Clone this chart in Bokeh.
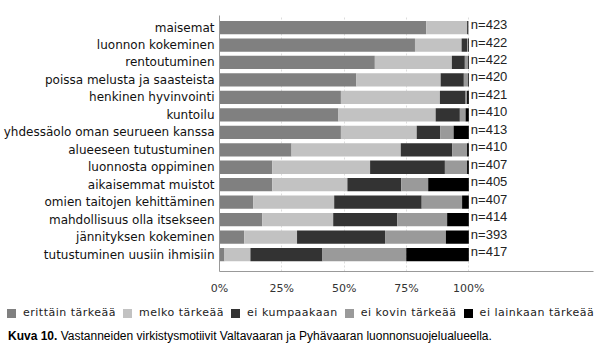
from bokeh.plotting import figure
from bokeh.models import FixedTicker, ColumnDataSource, Div
from bokeh.layouts import column
from bokeh.core.properties import value
from bokeh.embed import file_html
from bokeh.resources import INLINE

categories = ["maisemat", "luonnon kokeminen", "rentoutuminen", "poissa melusta ja saasteista",
              "henkinen hyvinvointi", "kuntoilu", "yhdessäolo oman seurueen kanssa",
              "alueeseen tutustuminen", "luonnosta oppiminen", "aikaisemmat muistot",
              "omien taitojen kehittäminen", "mahdollisuus olla itsekseen",
              "jännityksen kokeminen", "tutustuminen uusiin ihmisiin"]
erittain = [82.9, 78.4, 62.3, 54.9, 48.7, 47.7, 48.7, 28.9, 21.2, 21.2, 13.5, 17.1, 9.9, 2.0]
melko = [16.4, 18.7, 30.9, 33.8, 39.7, 39.0, 30.4, 43.8, 39.2, 30.1, 32.5, 28.5, 21.2, 10.4]
kumpaakaan = [0.4, 2.2, 5.2, 9.3, 10.3, 9.7, 9.4, 20.6, 30.0, 21.6, 35.1, 25.7, 35.3, 28.9]
kovin = [0.3, 0.4, 1.3, 1.7, 0.6, 2.3, 5.4, 6.0, 8.9, 10.8, 16.2, 20.0, 24.4, 33.6]
lainkaan = [0.0, 0.3, 0.3, 0.3, 0.7, 1.3, 6.1, 0.7, 0.7, 16.3, 2.7, 8.7, 9.2, 25.1]
n_values = [423, 422, 422, 420, 421, 410, 413, 410, 407, 405, 407, 414, 393, 417]
series_names = ["erittäin tärkeää", "melko tärkeää", "ei kumpaakaan", "ei kovin tärkeää", "ei lainkaan tärkeää"]
x_ticks = [0, 25, 50, 75, 100]
x_tick_labels = ["0%", "25%", "50%", "75%", "100%"]
caption_bold = "Kuva 10."
caption_text = "Vastanneiden virkistysmotiivit Valtavaaran ja Pyhävaaran luonnonsuojelualueella."

colors = ["#808080", "#c2c2c2", "#333333", "#9a9a9a", "#000000"]
keys = ["s0", "s1", "s2", "s3", "s4"]
ncat = len(categories)
ypos = [ncat - 1 - i for i in range(ncat)]

data = dict(y=ypos, s0=erittain, s1=melko, s2=kumpaakaan, s3=kovin, s4=lainkaan,
            n=["n=%d" % v for v in n_values], xend=[100] * ncat)
src = ColumnDataSource(data)

p = figure(width=601, height=296, output_backend="svg", toolbar_location=None,
           x_range=(0, 150), y_range=(-0.97, 13.69),
           frame_width=374, frame_height=256,
           min_border_left=218, min_border_right=9, min_border_top=15, min_border_bottom=25)
p.outline_line_color = None
p.background_fill_color = "white"

p.hbar_stack(keys, y="y", height=0.76, color=colors, source=src, line_color=None)

p.text(x="xend", y="y", text="n", source=src, x_offset=2, y_offset=-3,
       text_font=value("Liberation Sans"), text_font_size="13px", text_color="#222222",
       text_baseline="middle", text_align="left")

p.xaxis.ticker = FixedTicker(ticks=x_ticks)
p.xaxis.major_label_overrides = {t: l for t, l in zip(x_ticks, x_tick_labels)}
p.xaxis.major_tick_line_color = None
p.xaxis.major_tick_out = 0
p.xaxis.major_tick_in = 0
p.xaxis.minor_tick_line_color = None
p.xaxis.axis_line_color = "#999999"
p.xaxis.major_label_text_font = "DejaVu Sans"
p.xaxis.major_label_text_font_size = "11px"
p.xaxis.major_label_text_color = "#333333"
p.xaxis.major_label_standoff = 10

p.yaxis.ticker = FixedTicker(ticks=ypos)
p.yaxis.major_label_overrides = {y: c for y, c in zip(ypos, categories)}
p.yaxis.major_tick_line_color = None
p.yaxis.major_tick_out = 0
p.yaxis.major_tick_in = 0
p.yaxis.minor_tick_line_color = None
p.yaxis.axis_line_color = "#999999"
p.yaxis.major_label_text_font = "DejaVu Sans"
p.yaxis.major_label_text_font_size = "12px"
p.yaxis.major_label_text_color = "#111111"
p.yaxis.major_label_standoff = 5

p.ygrid.grid_line_color = None
p.xgrid.grid_line_color = "#dddddd"
p.xgrid.grid_line_dash = "2 2"

items_html = "".join(
    '<span style="display:inline-flex;align-items:center;margin-right:7px;">'
    '<span style="display:inline-block;width:9px;height:9px;background:%s;margin-right:7px;"></span>'
    '<span>%s</span></span>' % (c, nm)
    for c, nm in zip(colors, series_names))
legend_div = Div(text=items_html, width=601, height=30, margin=0,
                 styles={"font-family": "DejaVu Sans, sans-serif", "font-size": "11px",
                         "color": "#222", "padding": "10px 0 0 7px", "line-height": "12px",
                         "letter-spacing": "0.5px", "white-space": "nowrap"})

cap = Div(text="<b>%s</b> %s" % (caption_bold, caption_text), width=601, height=26, margin=0,
          styles={"font-family": "Liberation Sans, Arial, sans-serif", "font-size": "12px",
                  "color": "#000", "padding": "3px 0 0 8px", "line-height": "12px"})

layout = column(p, legend_div, cap, spacing=0)
open("out.html", "w").write(file_html(layout, INLINE))
